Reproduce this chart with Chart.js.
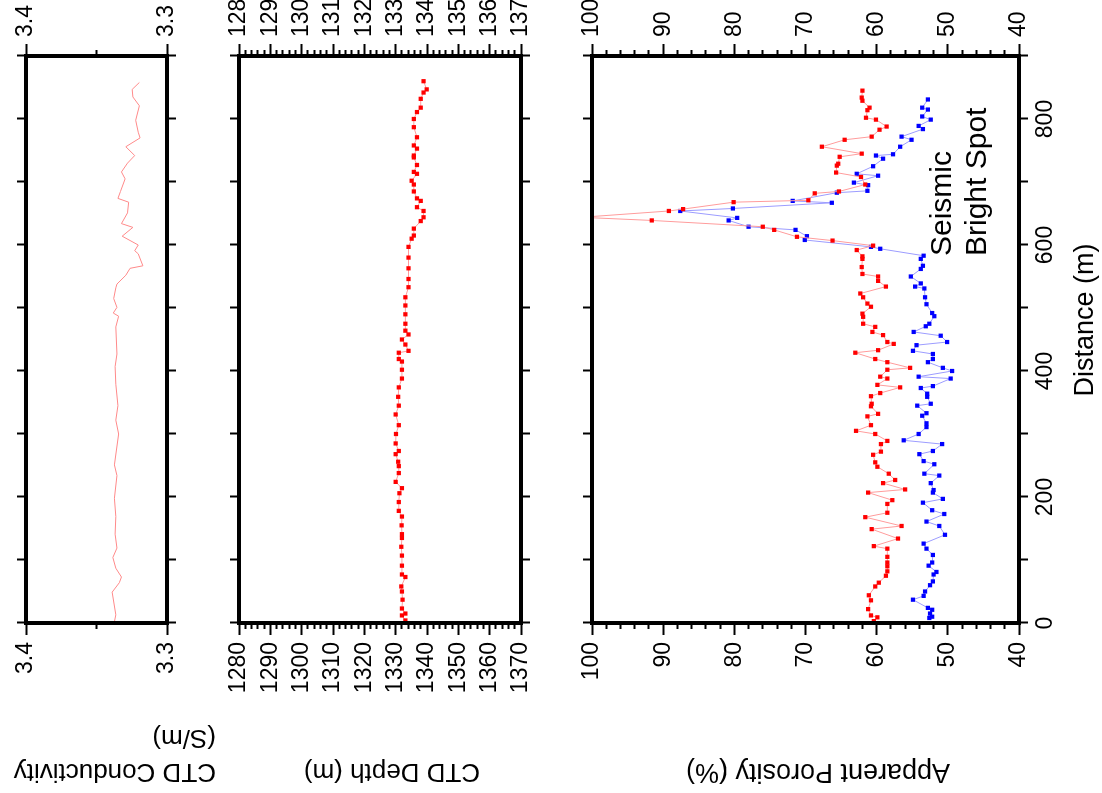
<!DOCTYPE html>
<html>
<head>
<meta charset="utf-8">
<script src="https://cdn.jsdelivr.net/npm/chart.js@4.4.0/dist/chart.umd.min.js"></script>
<style>
  html, body { margin: 0; padding: 0; background: #fff; overflow: hidden; width: 1102px; height: 793px; }
  /* the figure is laid out upright, then turned a quarter turn like the original page */
  #page { position: absolute; left: 0; top: 0; width: 793px; height: 1102px;
          transform-origin: 0 0; transform: translate(0, 793px) rotate(-90deg); }
  #page canvas { position: absolute; left: 0; top: 0; }
</style>
</head>
<body>
<div id="page">
  <canvas id="cond" width="793" height="1102"></canvas>
  <canvas id="depth" width="793" height="1102"></canvas>
  <canvas id="poro" width="793" height="1102"></canvas>
</div>
<script>
// distance along the tow (m)
const distMin = 0;
const distMax = 900;
const distTicks = [0, 100, 200, 300, 400, 500, 600, 700, 800, 900];

// CTD conductivity (S/m)
const condDist = [2, 13, 49, 64, 73, 87, 104, 119, 141, 169, 198, 234, 251, 300, 322, 345, 379, 407, 427, 470,
  487, 492, 501, 515, 532, 538, 552, 563, 567, 586, 591, 600, 614, 628, 634, 651, 668, 674, 685, 705,
  716, 730, 742, 756, 770, 779, 798, 821, 835, 847, 858];
const condValue = [3.3373, 3.3363, 3.3389, 3.3338, 3.3323, 3.3363, 3.3384, 3.3355, 3.3368, 3.3363,
  3.3373, 3.3355, 3.3373, 3.3343, 3.3363, 3.3348, 3.3363, 3.3368, 3.3355, 3.3363,
  3.3343, 3.3381, 3.3355, 3.3378, 3.3363, 3.3355, 3.3292, 3.3262, 3.3171, 3.3204,
  3.3229, 3.3204, 3.3318, 3.3242, 3.3323, 3.3280, 3.3272, 3.3348, 3.3330, 3.3297,
  3.3323, 3.3280, 3.3229, 3.3292, 3.3191, 3.3204, 3.3222, 3.3196, 3.3242, 3.3247, 3.3196];
const condTicks = [3.3, 3.35, 3.4];

// CTD depth (m)
const depthDist = [4, 12, 15, 23, 37, 50, 58, 73, 77, 91, 107, 121, 135, 141, 155, 169, 178, 192, 206, 214,
  224, 238, 249, 256, 268, 273, 285, 300, 314, 331, 345, 359, 374, 388, 402, 415, 419, 429, 432, 442,
  450, 458, 464, 475, 490, 504, 517, 533, 546, 563, 580, 597, 610, 615, 626, 638, 644, 654, 660, 670,
  674, 685, 696, 702, 713, 716, 727, 739, 742, 753, 758, 771, 787, 800, 811, 818, 832, 842, 847, 860];
const depthValue = [1333.1, 1332.0, 1333.1, 1332.0, 1332.2, 1332.0, 1331.8, 1333.1, 1332.0, 1332.0,
  1332.0, 1331.8, 1332.0, 1332.0, 1331.9, 1332.0, 1331.0, 1331.0, 1331.2, 1332.0,
  1330.0, 1331.0, 1331.0, 1330.8, 1330.0, 1331.0, 1330.0, 1330.1, 1331.0, 1330.0,
  1331.0, 1330.8, 1331.0, 1332.0, 1332.0, 1332.0, 1331.0, 1331.0, 1334.1, 1333.1,
  1332.0, 1334.1, 1333.1, 1333.1, 1333.1, 1333.1, 1333.1, 1334.1, 1334.1, 1334.1,
  1334.1, 1334.1, 1335.1, 1335.8, 1335.8, 1338.0, 1338.9, 1338.9, 1336.8, 1338.0,
  1336.8, 1335.8, 1335.8, 1335.1, 1336.8, 1335.8, 1336.8, 1335.8, 1335.8, 1336.8,
  1335.8, 1336.8, 1335.8, 1335.8, 1336.8, 1338.0, 1338.0, 1338.9, 1339.9, 1338.9];
const depthTicks = [];
for (let v = 1280; v <= 1370; v += 2) depthTicks.push(v);

// apparent porosity (%), red and blue series
const redDist = [3, 9, 12, 22, 36, 44, 58, 64, 75, 82, 90, 96, 105, 118, 122, 134, 149, 154, 168, 175,
  189, 195, 207, 212, 222, 227, 237, 248, 255, 267, 272, 284, 289, 300, 305, 314, 328, 332, 344, 348,
  360, 365, 374, 378, 388, 391, 402, 405, 414, 419, 429, 433, 443, 446, 457, 462, 470, 475, 486, 491,
  502, 507, 517, 523, 534, 543, 550, 554, 565, 578, 582, 592, 599, 607, 613, 624, 629, 639, 644, 654,
  657, 668, 671, 682, 685, 696, 708, 715, 726, 729, 740, 745, 756, 767, 772, 783, 788, 799, 802, 814,
  818, 829, 834, 845];
const redPoro = [60.4, 59.9, 60.8, 61.2, 60.8, 61.1, 60.2, 59.7, 58.7, 58.5,
  58.5, 58.5, 58.5, 58.5, 60.4, 57.0, 60.7, 56.5, 61.6, 58.5,
  58.5, 57.8, 61.2, 56.0, 59.1, 57.4, 58.3, 59.9, 60.2, 60.5,
  59.4, 59.4, 58.5, 60.2, 62.9, 60.8, 61.3, 59.8, 60.8, 60.7,
  60.8, 59.5, 56.7, 59.9, 58.5, 59.5, 58.5, 55.3, 58.5, 60.2,
  63.0, 59.8, 57.6, 58.5, 59.1, 60.6, 60.2, 61.9, 61.9, 62.0,
  60.8, 61.3, 61.9, 62.3, 58.7, 59.8, 59.8, 62.0, 62.1, 62.0,
  62.0, 62.8, 60.5, 66.2, 71.2, 74.4, 76.0, 91.6, 101.5, 89.2,
  87.2, 80.1, 69.6, 68.7, 65.3, 61.6, 62.2, 65.7, 65.6, 65.4,
  65.2, 62.1, 67.7, 64.5, 60.7, 59.6, 58.6, 60.1, 61.5, 61.3,
  61.0, 62.0, 62.1, 62.0];
const blueDist = [8, 10, 15, 21, 24, 37, 43, 50, 60, 66, 77, 81, 91, 96, 108, 118, 126, 140, 154, 161,
  173, 179, 191, 197, 207, 211, 222, 234, 237, 252, 257, 268, 273, 284, 290, 300, 311, 317, 329, 333,
  345, 348, 359, 364, 373, 376, 388, 391, 400, 405, 414, 419, 427, 432, 441, 446, 456, 462, 471, 475,
  487, 492, 506, 517, 531, 534, 539, 550, 562, 567, 578, 583, 594, 597, 608, 614, 624, 629, 639, 643,
  654, 658, 667, 670, 683, 686, 695, 699, 710, 713, 725, 737, 742, 744, 756, 767, 772, 784, 789, 799,
  804, 815, 818, 831];
const bluePoro = [52.6, 52.2, 52.5, 52.2, 52.8, 54.9, 53.4, 53.2, 52.5, 52.1,
  52.0, 51.6, 52.7, 52.2, 52.1, 53.0, 53.4, 50.4, 51.2, 53.0,
  50.5, 52.2, 53.5, 50.7, 52.1, 52.0, 52.4, 51.2, 53.3, 51.9,
  53.4, 54.0, 52.1, 50.8, 56.2, 54.1, 53.0, 53.0, 53.6, 53.0,
  54.3, 52.4, 52.9, 52.9, 53.8, 52.1, 49.6, 54.1, 49.4, 50.7,
  52.8, 52.1, 52.1, 54.9, 54.4, 50.1, 51.0, 54.8, 53.1, 52.6,
  51.9, 52.2, 53.0, 53.2, 53.3, 54.6, 53.8, 55.2, 53.8, 53.5,
  53.8, 53.4, 59.5, 60.8, 70.1, 69.8, 71.4, 78.0, 80.8, 79.6,
  87.6, 80.2, 66.3, 71.8, 65.6, 61.3, 61.2, 63.2, 59.8, 62.8,
  60.5, 59.1, 60.1, 57.7, 56.7, 55.1, 56.5, 53.5, 54.1, 52.4,
  53.6, 52.8, 53.6, 52.8];
const poroTicks = [];
for (let v = 40; v <= 100; v += 2) poroTicks.push(v);

const FONT = '"Liberation Sans", Arial, sans-serif';
Chart.defaults.font.family = FONT;
Chart.defaults.font.size = 23;
Chart.defaults.color = '#000';

const zip = (xs, ys) => xs.map((x, i) => ({ x, y: ys[i] }));

// thick black box round each plot
const framePlugin = {
  id: 'frame',
  afterDraw(chart) {
    const { ctx, chartArea: a } = chart;
    ctx.save();
    ctx.lineWidth = 4;
    ctx.strokeStyle = '#000';
    ctx.strokeRect(a.left, a.top, a.right - a.left, a.bottom - a.top);
    ctx.restore();
  }
};

// axis titles and the annotation (drawn on the upright page)
const titlePlugin = {
  id: 'titles',
  afterDraw(chart) {
    const ctx = chart.ctx;
    const up = (text, x, y, align, size) => {
      ctx.save();
      ctx.translate(x, y);
      ctx.rotate(-Math.PI / 2);
      ctx.textAlign = align;
      ctx.font = size + 'px ' + FONT;
      ctx.fillText(text, 0, 0);
      ctx.restore();
    };
    const flat = (text, x, y, align, size) => {
      ctx.textAlign = align;
      ctx.font = size + 'px ' + FONT;
      ctx.fillText(text, x, y);
    };
    ctx.save();
    ctx.fillStyle = '#000';
    ctx.textBaseline = 'alphabetic';
    up('CTD Conductivity', 29, 216, 'left', 26);
    up('(S/m)', 63, 216, 'left', 26);
    up('CTD Depth (m)', 29, 392, 'center', 26);
    up('Apparent Porosity (%)', 29, 818, 'center', 27);
    flat('Distance (m)', 473, 1093, 'center', 27);
    flat('Seismic', 537, 951, 'left', 30);
    flat('Bright Spot', 537, 986, 'left', 30);
    ctx.restore();
  }
};

const distAxis = (position, size, labelled) => ({
  type: 'linear',
  position,
  min: distMin,
  max: distMax,
  afterBuildTicks: s => { s.ticks = distTicks.map(v => ({ value: v })); },
  afterFit: s => { s.height = size; },
  grid: { drawOnChartArea: false, tickLength: 9, tickWidth: 2, tickColor: '#000' },
  border: { display: false },
  ticks: {
    display: labelled,
    autoSkip: false,
    maxRotation: 0,
    padding: 4,
    callback: v => (v % 200 === 0 ? String(v) : '')
  }
});

const valueAxis = (position, p) => ({
  type: 'linear',
  position,
  min: p.min,
  max: p.max,
  reverse: !!p.reverse,
  afterBuildTicks: s => { s.ticks = p.ticks.map(v => ({ value: v })); },
  afterFit: s => { s.width = position === 'left' ? 170 : 56; },
  grid: {
    drawOnChartArea: false,
    tickLength: 12,
    tickWidth: 2,
    tickColor: '#000',
    tickBorderDash: c => (c.tick && !p.isMajor(c.tick.value))
      ? (position === 'left' ? [0, 6, 6, 100] : [6, 100]) : []
  },
  border: { display: false },
  ticks: {
    autoSkip: false,
    padding: 7,
    callback: v => (p.isMajor(v) ? p.fmt(v) : '')
  }
});

function panel(id, p, extraPlugins) {
  return new Chart(document.getElementById(id), {
    type: 'line',
    data: { datasets: p.datasets },
    options: {
      responsive: false,
      animation: false,
      devicePixelRatio: 1,
      events: [],
      layout: { padding: { top: p.padTop, bottom: p.padBottom, left: 0, right: 0 } },
      plugins: { legend: { display: false }, tooltip: { enabled: false } },
      scales: {
        x: distAxis('bottom', p.bottomH, p.distLabels),
        x2: distAxis('top', p.topH, false),
        y: valueAxis('left', p),
        y2: valueAxis('right', p)
      }
    },
    plugins: [framePlugin].concat(extraPlugins || [])
  });
}

const squares = (color) => ({
  pointStyle: 'rect',
  pointRadius: 3,
  pointBackgroundColor: color,
  pointBorderWidth: 0,
  borderWidth: 1,
  clip: 0
});

panel('cond', {
  min: 3.3, max: 3.4, ticks: condTicks,
  isMajor: v => Math.abs(v * 10 - Math.round(v * 10)) < 1e-6,
  fmt: v => v.toFixed(1),
  padTop: 0, topH: 26, bottomH: 30, padBottom: 905, distLabels: false,
  datasets: [{ data: zip(condDist, condValue), borderColor: '#ff8a8a', borderWidth: 1, pointRadius: 0, clip: 0 }]
});

panel('depth', {
  min: 1280, max: 1370, reverse: true, ticks: depthTicks,
  isMajor: v => v % 10 === 0,
  fmt: v => String(v),
  padTop: 209, topH: 30, bottomH: 30, padBottom: 551, distLabels: false,
  datasets: [Object.assign({ data: zip(depthDist, depthValue), borderColor: '#ff9c9c' }, squares('#ff0000'))]
});

panel('poro', {
  min: 40, max: 100, ticks: poroTicks,
  isMajor: v => v % 10 === 0,
  fmt: v => String(v),
  padTop: 562, topH: 30, bottomH: 83, padBottom: 0, distLabels: true,
  datasets: [
    Object.assign({ data: zip(redDist, redPoro), borderColor: '#ff9c9c' }, squares('#ff0000')),
    Object.assign({ data: zip(blueDist, bluePoro), borderColor: '#9c9cff' }, squares('#0000ff'))
  ]
}, [titlePlugin]);
</script>
</body>
</html>
